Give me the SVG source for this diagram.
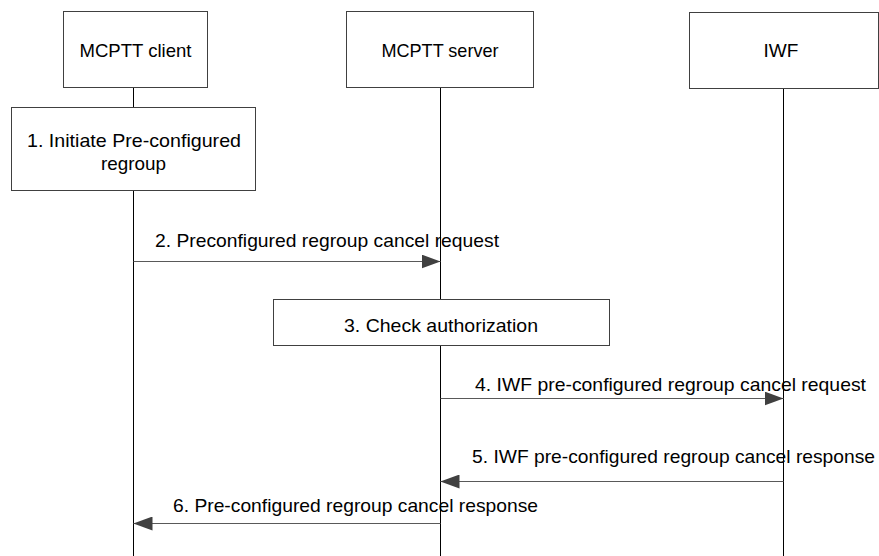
<svg xmlns="http://www.w3.org/2000/svg" width="879" height="556" viewBox="0 0 879 556">
<defs>
<style>
.box{fill:#fff;stroke:#404040;stroke-width:1}
.life{stroke:#000;stroke-width:1}
.msg{stroke:#595959;stroke-width:1;fill:none}
text{font-family:"Liberation Sans",Arial,sans-serif;font-size:19px;fill:#000}
.c{text-anchor:middle}
</style>
<marker id="ah" markerWidth="19" markerHeight="14" refX="19" refY="7" orient="auto" markerUnits="userSpaceOnUse">
<path d="M0,0 L19,7 L0,14 Z" fill="#404040"/>
</marker>
</defs>
<rect width="879" height="556" fill="#fff"/>
<g id="lifelines">
<line class="life" x1="133.5" y1="87" x2="133.5" y2="556"/>
<line class="life" x1="440.5" y1="87" x2="440.5" y2="556"/>
<line class="life" x1="783.5" y1="88" x2="783.5" y2="556"/>
</g>
<g id="client">
<rect class="box" x="63.5" y="11.5" width="144" height="76"/>
<text class="c" x="135.5" y="57" textLength="112" lengthAdjust="spacingAndGlyphs">MCPTT client</text>
</g>
<g id="server">
<rect class="box" x="346.5" y="11.5" width="187" height="76"/>
<text class="c" x="440" y="57" textLength="117" lengthAdjust="spacingAndGlyphs">MCPTT server</text>
</g>
<g id="iwf">
<rect class="box" x="689.5" y="12.5" width="189" height="76"/>
<text class="c" x="781" y="57">IWF</text>
</g>
<g id="step1">
<rect class="box" x="11.5" y="107.5" width="244" height="83"/>
<text class="c" x="134" y="147" textLength="214" lengthAdjust="spacingAndGlyphs">1. Initiate Pre-configured</text>
<text class="c" x="133.5" y="170" textLength="65" lengthAdjust="spacingAndGlyphs">regroup</text>
</g>
<g id="step3">
<rect class="box" x="273.5" y="299.5" width="336" height="46"/>
<text class="c" x="441" y="332" textLength="194" lengthAdjust="spacingAndGlyphs">3. Check authorization</text>
</g>
<g id="connectors">
<line class="msg" x1="133.5" y1="261.5" x2="440.5" y2="261.5" marker-end="url(#ah)"/>
<text x="155" y="247" textLength="344" lengthAdjust="spacingAndGlyphs">2. Preconfigured regroup cancel request</text>
<line class="msg" x1="440.5" y1="398.5" x2="783.5" y2="398.5" marker-end="url(#ah)"/>
<text x="475" y="391" textLength="391" lengthAdjust="spacingAndGlyphs">4. IWF pre-configured regroup cancel request</text>
<line class="msg" x1="783.5" y1="481.5" x2="440.5" y2="481.5" marker-end="url(#ah)"/>
<text x="472" y="463" textLength="403" lengthAdjust="spacingAndGlyphs">5. IWF pre-configured regroup cancel response</text>
<line class="msg" x1="440.5" y1="523.5" x2="133.5" y2="523.5" marker-end="url(#ah)"/>
<text x="173" y="512" textLength="365" lengthAdjust="spacingAndGlyphs">6. Pre-configured regroup cancel response</text>
</g>
</svg>
